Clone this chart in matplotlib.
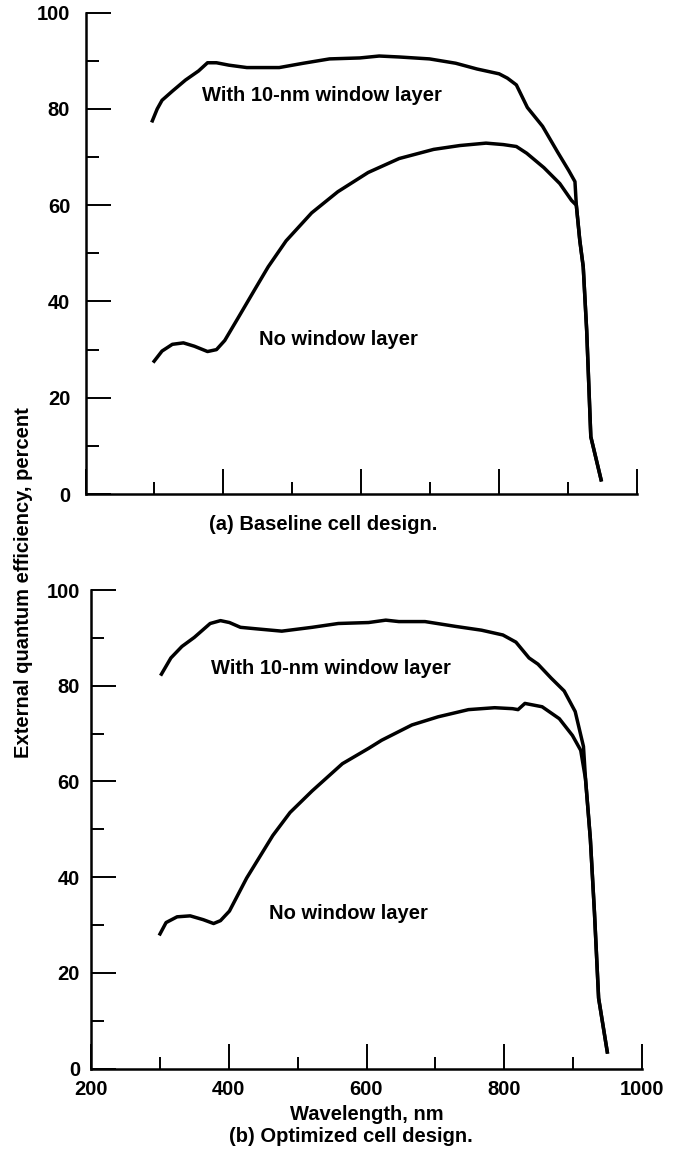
import matplotlib
matplotlib.use("Agg")
import matplotlib.pyplot as plt
from matplotlib.ticker import MultipleLocator

plt.rcParams['font.family'] = ['Liberation Sans', 'DejaVu Sans']
plt.rcParams['font.weight'] = 'bold'

# ---------------- data ----------------
# (a) Baseline cell design
a_win_wl = [296, 304, 311, 326, 345, 364, 377, 390, 408, 434, 481, 516, 554, 598, 626, 655,
            699, 737, 768, 800, 812, 825, 841, 863, 885, 901, 910, 912, 917, 922, 927, 933, 948.5]
a_win_qe = [77.2, 80.0, 81.8, 83.7, 86.0, 87.9, 89.6, 89.6, 89.1, 88.6, 88.6, 89.5, 90.4, 90.6, 91.0, 90.8,
            90.4, 89.5, 88.3, 87.3, 86.4, 85.0, 80.3, 76.4, 71.0, 67.2, 64.9, 60.0, 52.7, 47.2, 34.0, 11.9, 2.6]
a_nowin_wl = [298, 311, 326, 342, 358, 377, 390, 402, 421, 446, 465, 491, 528, 566, 610, 655,
              705, 743, 781, 806, 825, 840, 865, 888, 905, 912, 917, 922, 927, 933, 948.5]
a_nowin_qe = [27.3, 29.7, 31.1, 31.4, 30.7, 29.6, 30.0, 31.9, 36.5, 42.6, 47.2, 52.6, 58.4, 62.8, 66.8, 69.7,
              71.6, 72.4, 72.9, 72.6, 72.2, 70.8, 67.8, 64.5, 61.0, 60.0, 52.7, 47.2, 34.0, 11.9, 2.6]

# (b) Optimized cell design
b_win_wl = [301, 316, 332, 350, 373, 388, 401, 417, 439, 477, 521, 559, 603, 628, 647, 685,
            729, 767, 798, 817, 836, 849, 868, 887, 903, 915, 918, 925, 931, 937, 950]
b_win_qe = [82.1, 85.8, 88.2, 90.1, 93.0, 93.6, 93.2, 92.2, 91.9, 91.4, 92.2, 93.0, 93.2, 93.7, 93.4, 93.4,
            92.4, 91.6, 90.6, 89.1, 85.8, 84.5, 81.6, 78.9, 74.6, 67.3, 60.5, 48.0, 32.5, 14.7, 3.1]
b_nowin_wl = [299, 309, 325, 344, 363, 378, 388, 401, 426, 464, 489, 521, 565, 603, 622, 666,
              704, 748, 786, 812, 820, 830, 855, 880, 899, 911, 918, 925, 931, 937, 950]
b_nowin_qe = [27.8, 30.5, 31.7, 31.9, 31.1, 30.3, 30.9, 32.9, 39.8, 48.7, 53.5, 58.0, 63.7, 66.9, 68.6, 71.8,
              73.5, 75.0, 75.4, 75.2, 75.0, 76.3, 75.6, 73.1, 69.6, 66.5, 60.5, 48.0, 32.5, 14.7, 3.1]

y_ticks = [0, 20, 40, 60, 80, 100]
x_ticks = [200, 400, 600, 800, 1000]
label_win = "With 10-nm window layer"
label_nowin = "No window layer"
cap_a = "(a) Baseline cell design."
cap_b = "(b) Optimized cell design."
x_label = "Wavelength, nm"
y_label = "External quantum efficiency, percent"

# ---------------- figure ----------------
W, H = 680, 1160
fig = plt.figure(figsize=(W / 100, H / 100), dpi=100)
fig.patch.set_facecolor('white')

FS = 14.5
LW = 2.5


def px_axes(l, r, t, b):
    return fig.add_axes([l / W, 1 - b / H, (r - l) / W, (b - t) / H])


def style(ax, show_xlabels, ypad):
    ax.set_xlim(200, 1000)
    ax.set_ylim(0, 100)
    for s in ('top', 'right'):
        ax.spines[s].set_visible(False)
    for s in ('left', 'bottom'):
        ax.spines[s].set_linewidth(1.8)
    ax.set_yticks(y_ticks)
    ax.yaxis.set_minor_locator(MultipleLocator(10))
    ax.set_xticks(x_ticks)
    ax.xaxis.set_minor_locator(MultipleLocator(100))
    ax.tick_params(axis='both', which='major', direction='in', length=18, width=1.4,
                   labelsize=FS)
    ax.tick_params(axis='both', which='minor', direction='in', length=9, width=1.4)
    ax.tick_params(axis='y', which='major', pad=ypad)
    ax.tick_params(axis='x', which='major', pad=8, labelbottom=show_xlabels)
    for lab in ax.get_xticklabels() + ax.get_yticklabels():
        lab.set_fontweight('bold')


# panel (a)
ax1 = px_axes(85.5, 637, 12.7, 494)
style(ax1, False, 11)
ax1.plot(a_win_wl, a_win_qe, color='black', lw=LW, solid_joinstyle='round', solid_capstyle='butt')
ax1.plot(a_nowin_wl, a_nowin_qe, color='black', lw=LW, solid_joinstyle='round', solid_capstyle='butt')
ax1.text(369, 82.9, label_win, fontsize=FS, fontweight='bold', ha='left', va='center')
ax1.text(451, 32.0, label_nowin, fontsize=FS, fontweight='bold', ha='left', va='center')

# panel (b)
ax2 = px_axes(91, 642, 590, 1068.5)
style(ax2, True, 8)
ax2.plot(b_win_wl, b_win_qe, color='black', lw=LW, solid_joinstyle='round', solid_capstyle='butt')
ax2.plot(b_nowin_wl, b_nowin_qe, color='black', lw=LW, solid_joinstyle='round', solid_capstyle='butt')
ax2.text(374, 83.5, label_win, fontsize=FS, fontweight='bold', ha='left', va='center')
ax2.text(459, 32.3, label_nowin, fontsize=FS, fontweight='bold', ha='left', va='center')

# captions and axis titles
fig.text(323 / W, 1 - 525 / H, cap_a, fontsize=FS, fontweight='bold', ha='center', va='center')
fig.text(367 / W, 1 - 1115 / H, x_label, fontsize=FS, fontweight='bold', ha='center', va='center')
fig.text(351 / W, 1 - 1136 / H, cap_b, fontsize=FS, fontweight='bold', ha='center', va='center')
fig.text(24 / W, 1 - 583 / H, y_label, fontsize=FS, fontweight='bold', ha='center', va='center',
         rotation=90)

fig.savefig('out.png', dpi=100, facecolor='white')
